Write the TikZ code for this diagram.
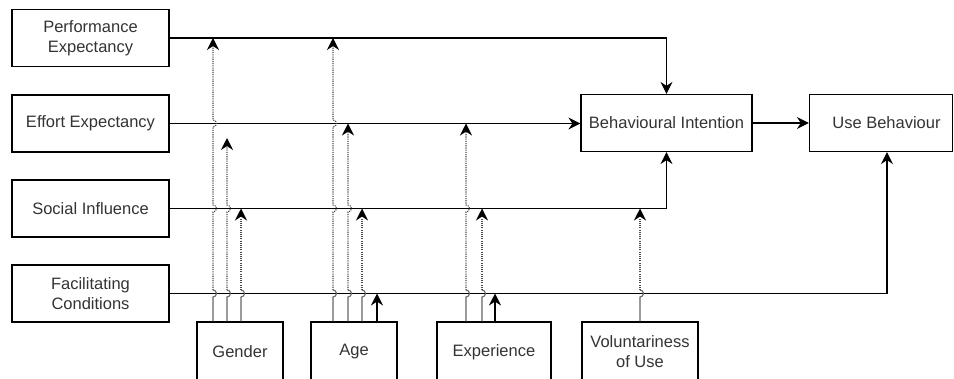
\documentclass[tikz,border=0pt]{standalone}
\usepackage{fontspec}
\setmainfont{Liberation Sans}
\usetikzlibrary{arrows.meta}
\definecolor{txt}{HTML}{333333}
\definecolor{modgray}{HTML}{666666}
\definecolor{dotgray}{HTML}{4A4A4A}
\begin{document}
\begin{tikzpicture}[x=1pt,y=-1pt,
  box/.style={draw=black, line width=1.2pt, inner sep=0pt, align=center,
    text=txt, font=\fontsize{16.5}{20}\selectfont},
  lbox/.style={box, minimum width=157pt, minimum height=57pt},
  mbox/.style={box, minimum height=60pt},
  conn/.style={draw=black, line width=1.2pt,
    -{Stealth[length=12pt,width=12pt,inset=4pt]}},
  modlow/.style={draw=modgray, line width=1.1pt},
  moddot/.style={draw=dotgray, line width=1.1pt, dash pattern=on 1.1pt off 1.1pt,
    -{Stealth[length=12pt,width=12pt,inset=4pt,color=black,fill=black]}},
  jumpup/.style={insert path={arc[start angle=-90,end angle=90,radius=3.5pt]}}
]
\useasboundingbox (0,0) rectangle (954,378);
\clip (0,0) rectangle (954,378);

% constructs
\node[lbox] (pe) at (90.5,38)    {Performance\\Expectancy};
\node[lbox] (ee) at (90.5,123.5) {Effort Expectancy};
\node[lbox] (si) at (90.5,208.5) {Social Influence};
\node[lbox] (fc) at (90.5,293.5) {Facilitating\\Conditions};
\node[box, minimum width=171pt, minimum height=57pt] (bi) at (666.5,123) {Behavioural Intention};
\node[box, minimum width=143pt, minimum height=57pt] (ub) at (881,123) {\hspace*{11pt}Use Behaviour};

% moderators (their lower edges run past the bottom of the sheet)
\node[mbox, minimum width=86pt]  (gen) at (240,352) {Gender};
\node[mbox, minimum width=86pt]  (age) at (354,352) {Age};
\node[mbox, minimum width=114pt] (exp) at (494,352) {Experience};
\node[mbox, minimum width=116pt] (vol) at (640,352) {Voluntariness\\of Use};

% main paths
\draw[conn] (pe.east) -| (bi.north);
\draw[conn] (ee.east) -- (ee.east -| bi.west);
\draw[conn] (si.east) -| (bi.south);
\draw[conn] (fc.east) -| ([xshift=6pt]ub.south);
\draw[conn] (bi.east) -- (ub.west);

% columns of the moderating links
\coordinate (cg1) at (213,0);
\coordinate (cg2) at (227,0);
\coordinate (cg3) at (241,0);
\coordinate (ca1) at (333,0);
\coordinate (ca2) at (348,0);
\coordinate (ca3) at (362,0);
\coordinate (ca4) at (377,0);
\coordinate (cx1) at (466,0);
\coordinate (cx2) at (482,0);
\coordinate (cx3) at (495,0);
\coordinate (cv1) at (640,0);
\coordinate (g2end) at (227,138);

% gender
\draw[modlow] (cg1 |- gen.north) -- ([yshift=-3.5pt]cg1 |- fc.east) [jumpup];
\draw[moddot] ([yshift=3.5pt]cg1 |- fc.east) -- ([yshift=-3.5pt]cg1 |- si.east) [jumpup]
  -- ([yshift=-3.5pt]cg1 |- ee.east) [jumpup] -- (cg1 |- pe.east);
\draw[modlow] (cg2 |- gen.north) -- ([yshift=-3.5pt]cg2 |- fc.east) [jumpup];
\draw[moddot] ([yshift=3.5pt]cg2 |- fc.east) -- ([yshift=-3.5pt]cg2 |- si.east) [jumpup]
  -- (g2end);
\draw[modlow] (cg3 |- gen.north) -- ([yshift=-3.5pt]cg3 |- fc.east) [jumpup];
\draw[moddot] ([yshift=3.5pt]cg3 |- fc.east) -- (cg3 |- si.east);

% age
\draw[modlow] (ca1 |- age.north) -- ([yshift=-3.5pt]ca1 |- fc.east) [jumpup];
\draw[moddot] ([yshift=3.5pt]ca1 |- fc.east) -- ([yshift=-3.5pt]ca1 |- si.east) [jumpup]
  -- ([yshift=-3.5pt]ca1 |- ee.east) [jumpup] -- (ca1 |- pe.east);
\draw[modlow] (ca2 |- age.north) -- ([yshift=-3.5pt]ca2 |- fc.east) [jumpup];
\draw[moddot] ([yshift=3.5pt]ca2 |- fc.east) -- ([yshift=-3.5pt]ca2 |- si.east) [jumpup]
  -- (ca2 |- ee.east);
\draw[modlow] (ca3 |- age.north) -- ([yshift=-3.5pt]ca3 |- fc.east) [jumpup];
\draw[moddot] ([yshift=3.5pt]ca3 |- fc.east) -- (ca3 |- si.east);
\draw[conn] (ca4 |- age.north) -- (ca4 |- fc.east);

% experience
\draw[modlow] (cx1 |- exp.north) -- ([yshift=-3.5pt]cx1 |- fc.east) [jumpup];
\draw[moddot] ([yshift=3.5pt]cx1 |- fc.east) -- ([yshift=-3.5pt]cx1 |- si.east) [jumpup]
  -- (cx1 |- ee.east);
\draw[modlow] (cx2 |- exp.north) -- ([yshift=-3.5pt]cx2 |- fc.east) [jumpup];
\draw[moddot] ([yshift=3.5pt]cx2 |- fc.east) -- (cx2 |- si.east);
\draw[conn] (cx3 |- exp.north) -- (cx3 |- fc.east);

% voluntariness
\draw[modlow] (cv1 |- vol.north) -- ([yshift=-3.5pt]cv1 |- fc.east) [jumpup];
\draw[moddot] ([yshift=3.5pt]cv1 |- fc.east) -- (cv1 |- si.east);
\end{tikzpicture}
\end{document}
